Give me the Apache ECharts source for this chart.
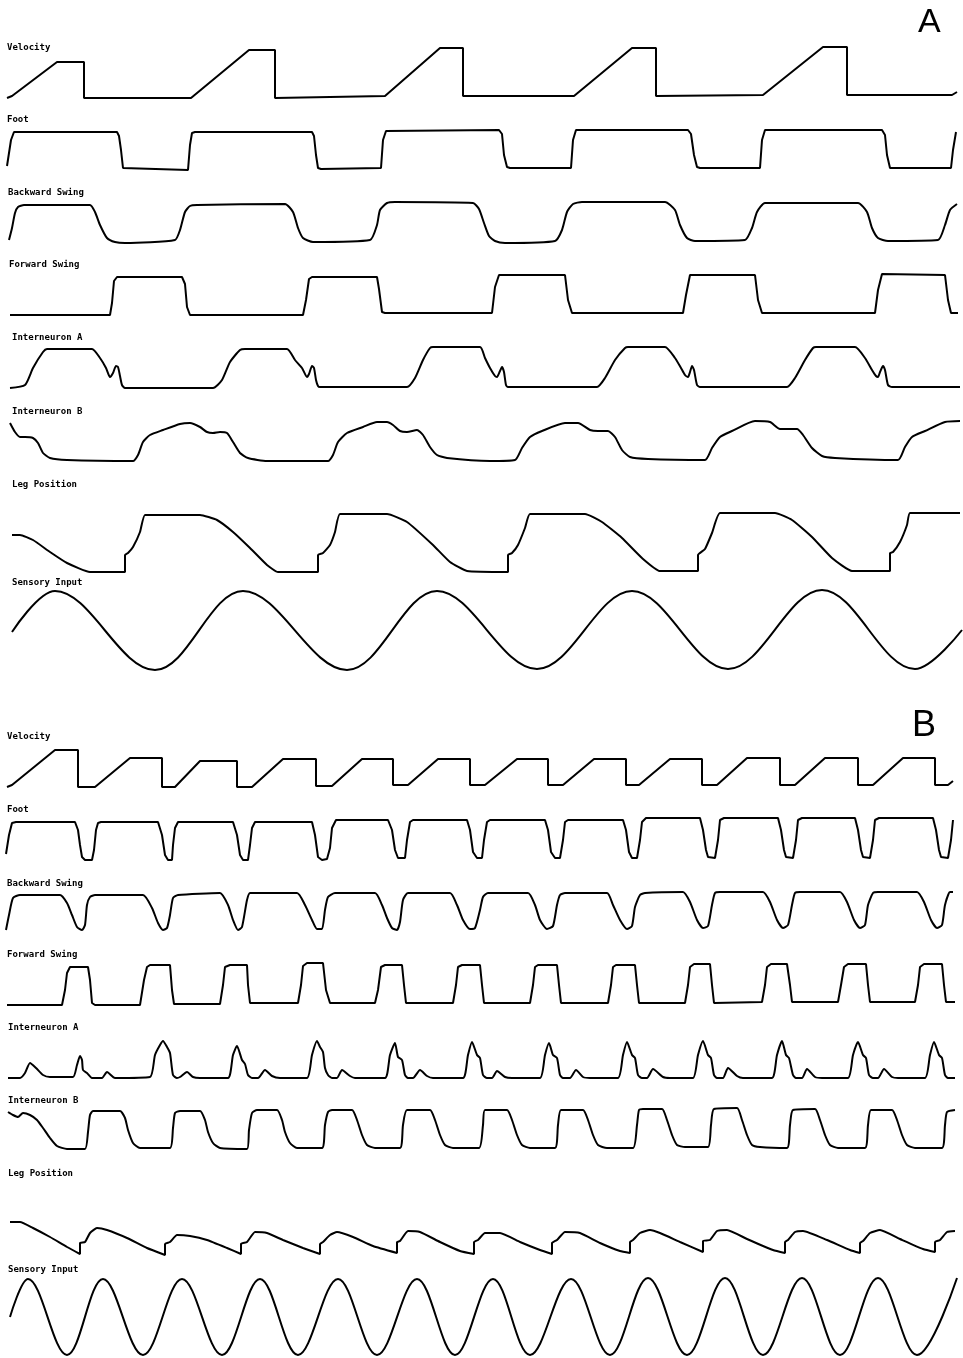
<!DOCTYPE html>
<html>
<head>
<meta charset="utf-8">
<script src="https://cdn.jsdelivr.net/npm/echarts@6/dist/echarts.min.js"></script>
<style>
  html, body { margin: 0; padding: 0; background: #fff; }
  #chart { width: 963px; height: 1358px; }
</style>
</head>
<body>
<div id="chart"></div>
<script>
// ---------- DATA (time step, activity level above the trace's baseline) ----------
const traceLabels = ['Velocity', 'Foot', 'Backward Swing', 'Forward Swing',
  'Interneuron A', 'Interneuron B', 'Leg Position', 'Sensory Input'];
const panelLetters = ['A', 'B'];

// Panel A
const velocityA = [[7,0],[12,2],[57,36],[84,36],[84,0],[191,0],[249,48],[275,48],[275,0],[385,2],[440,50],[463,50],[463,2],[574,2],[632,50],[656,50],[656,2],[763,3],[823,51],[847,51],[847,3],[952,3],[957,6]];
const footA = [[7,4],[11,30],[14,38],[18,38],[117,38],[119,34],[121,20],[123,2],[125,0],[188,0],[190,25],[192,37],[195,38],[312,38],[314,34],[316,15],[318,2],[321,1],[381,2],[383,30],[386,39],[388,39],[499,40],[502,36],[504,15],[507,3],[510,2],[571,2],[573,30],[576,40],[688,40],[691,36],[694,15],[697,3],[700,2],[760,2],[762,30],[765,40],[882,40],[885,35],[887,15],[890,2],[893,2],[951,2],[953,20],[956,38]];
const backSwingA = [[9,3],[12,15],[15,30],[18,36],[24,38],[90,38],[95,31],[100,18],[107,5],[115,1],[125,0],[175,3],[180,13],[185,31],[190,37],[197,38],[285,39],[293,31],[298,15],[303,5],[313,1],[370,3],[377,18],[380,33],[387,40],[395,41],[473,40],[479,34],[484,20],[489,7],[495,2],[505,0],[555,2],[562,13],[567,31],[573,39],[582,41],[665,41],[675,33],[680,18],[687,5],[695,2],[745,3],[752,15],[757,31],[765,40],[858,40],[867,31],[872,15],[878,5],[888,2],[938,3],[945,18],[950,33],[957,39]];
const fwdSwingA = [[10,0],[110,0],[112,12],[114,34],[117,38],[182,38],[185,31],[187,8],[190,0],[303,0],[306,15],[309,36],[312,38],[377,38],[379,26],[382,3],[385,2],[492,2],[495,28],[499,40],[565,40],[568,15],[572,2],[683,2],[686,20],[690,40],[755,40],[758,15],[762,2],[875,2],[878,25],[882,41],[945,40],[948,15],[951,2],[958,2]];
const interAA = [[10,0],[25,3],[33,20],[43,36],[47,39],[92,39],[100,30],[106,20],[110,11],[113,15],[116,22],[118,21],[120,12],[122,3],[125,0],[213,0],[222,8],[230,26],[240,38],[245,39],[287,39],[295,28],[302,20],[307,11],[309,14],[312,22],[314,20],[316,8],[318,2],[320,1],[407,1],[415,10],[423,28],[430,40],[433,41],[480,41],[485,30],[490,20],[495,12],[497,11],[500,17],[502,21],[504,16],[506,3],[508,1],[597,1],[605,10],[615,28],[625,40],[628,41],[665,41],[675,30],[681,20],[685,13],[688,11],[690,16],[692,22],[694,18],[697,3],[700,1],[787,1],[795,10],[805,28],[813,40],[816,41],[855,41],[865,30],[872,18],[876,12],[878,11],[880,16],[883,22],[885,18],[888,3],[892,1],[960,1]];
const interBA = [[10,38],[15,29],[20,24],[25,24],[33,23],[38,18],[43,8],[50,3],[67,1],[133,0],[138,6],[143,19],[150,26],[163,31],[180,37],[190,38],[200,34],[207,29],[213,28],[220,29],[227,28],[233,19],[240,8],[248,3],[267,0],[328,0],[333,6],[338,19],[347,28],[363,34],[377,39],[387,39],[393,36],[400,30],[407,29],[417,31],[423,26],[430,14],[437,6],[447,3],[490,0],[515,1],[522,13],[530,24],[542,30],[565,38],[578,38],[590,31],[598,30],[608,30],[615,24],[622,11],[630,4],[648,2],[705,1],[712,13],[720,24],[732,30],[755,40],[770,39],[780,32],[797,32],[803,26],[812,13],[822,5],[835,3],[898,1],[905,14],[912,24],[925,30],[945,39],[960,40]];
const legPosA = [[12,37],[20,37],[33,32],[50,20],[67,9],[90,0],[125,0],[125,17],[128,19],[133,25],[140,40],[145,57],[167,57],[200,57],[217,52],[233,40],[250,24],[267,7],[278,0],[318,0],[318,17],[323,19],[330,27],[335,40],[340,58],[387,58],[407,50],[433,27],[450,10],[467,1],[508,0],[508,17],[512,19],[518,27],[525,44],[530,58],[585,58],[602,50],[622,34],[642,14],[660,1],[698,1],[698,17],[705,23],[712,39],[720,59],[775,59],[792,52],[812,35],[832,14],[852,1],[890,1],[890,19],[893,20],[900,30],[907,47],[910,59],[960,59]];
const sensoryA = [[12,38],[55,79],[155,0],[243,79],[347,0],[437,79],[537,1],[632,79],[728,1],[822,80],[915,1],[962,40]];

// Panel B
const velocityB = [[7,0],[12,2],[55,37],[78,37],[78,0],[95,0],[130,29],[162,29],[162,0],[175,0],[200,26],[237,26],[237,0],[252,0],[283,28],[316,28],[316,1],[332,1],[362,28],[393,28],[393,2],[408,2],[438,28],[470,28],[470,2],[485,2],[517,28],[548,28],[548,2],[563,2],[594,28],[626,28],[626,2],[639,2],[670,28],[702,28],[702,2],[717,2],[747,29],[780,29],[780,2],[795,2],[825,29],[858,29],[858,2],[873,2],[903,29],[935,29],[935,2],[948,2],[953,6]];
const footB = [[6,6],[9,25],[12,37],[16,38],[75,38],[78,30],[80,15],[82,3],[85,0],[92,0],[94,10],[96,30],[98,37],[101,38],[158,38],[162,25],[165,5],[168,0],[172,0],[173,15],[175,32],[178,38],[233,38],[237,25],[240,5],[243,0],[248,0],[250,15],[252,32],[255,38],[312,38],[315,25],[318,3],[322,0],[327,1],[330,12],[332,32],[336,40],[388,40],[392,30],[395,10],[398,2],[405,2],[407,20],[410,38],[413,40],[467,40],[470,30],[473,8],[477,2],[482,2],[484,20],[487,38],[490,40],[545,40],[548,30],[551,8],[555,2],[560,2],[563,20],[565,38],[568,40],[623,40],[626,30],[629,8],[632,2],[637,2],[640,20],[642,38],[646,42],[700,42],[703,30],[706,10],[708,3],[715,2],[718,20],[720,40],[724,42],[778,42],[781,30],[784,10],[786,3],[793,2],[796,20],[798,40],[802,42],[855,42],[858,30],[861,10],[863,3],[870,2],[873,20],[875,40],[879,42],[933,42],[936,30],[939,10],[941,3],[948,2],[951,20],[953,40]];
const backSwingB = [[6,0],[9,15],[13,32],[20,35],[60,35],[67,27],[72,15],[77,3],[82,0],[85,5],[87,25],[90,33],[95,35],[143,35],[152,22],[158,7],[163,0],[167,2],[170,15],[173,32],[178,35],[220,37],[228,25],[233,10],[238,0],[242,3],[247,30],[250,37],[297,37],[305,25],[312,10],[317,1],[322,1],[325,20],[328,33],[335,37],[375,37],[382,25],[387,12],[392,2],[397,0],[400,8],[403,30],[408,37],[450,37],[457,25],[463,10],[470,1],[475,2],[480,20],[483,33],[488,37],[528,37],[535,25],[540,10],[547,1],[553,4],[557,25],[560,35],[565,37],[607,37],[613,25],[620,10],[627,1],[632,4],[635,23],[640,35],[645,37],[683,38],[690,28],[697,10],[703,2],[708,4],[712,25],[715,37],[720,38],[763,38],[770,28],[777,10],[783,2],[788,5],[792,25],[795,37],[800,38],[840,38],[847,28],[854,10],[860,2],[865,5],[868,25],[873,37],[878,38],[917,38],[924,28],[931,10],[937,2],[942,5],[945,25],[950,38],[953,38]];
const fwdSwingB = [[7,0],[62,0],[65,15],[67,32],[70,38],[88,38],[90,25],[92,2],[95,0],[140,0],[144,25],[147,38],[150,40],[170,40],[172,15],[174,1],[220,1],[223,20],[225,38],[230,40],[247,40],[248,20],[250,2],[298,2],[301,20],[303,39],[307,42],[323,42],[326,15],[330,2],[375,2],[378,15],[381,38],[385,40],[402,40],[404,20],[406,2],[453,2],[456,20],[458,38],[462,40],[480,40],[482,20],[484,2],[530,2],[533,20],[535,38],[538,40],[557,40],[559,20],[561,2],[608,2],[611,20],[613,38],[616,40],[635,40],[637,20],[639,2],[685,2],[688,20],[690,38],[694,41],[710,41],[712,20],[714,2],[762,3],[765,20],[767,38],[771,41],[787,41],[790,20],[792,3],[838,3],[841,20],[844,38],[848,41],[866,41],[868,20],[870,3],[915,3],[918,20],[920,38],[924,41],[942,41],[944,20],[946,3],[955,3]];
const interAB = [[8,0],[20,0],[25,5],[30,15],[36,10],[43,3],[50,1],[73,1],[77,13],[80,22],[82,18],[83,8],[87,5],[92,0],[102,0],[107,6],[115,0],[150,1],[155,23],[160,33],[163,37],[167,31],[170,25],[173,3],[177,0],[180,1],[187,6],[193,1],[200,0],[228,0],[233,23],[237,32],[242,18],[245,14],[248,3],[252,0],[258,0],[265,8],[272,2],[280,0],[307,0],[312,23],[317,37],[320,31],[323,26],[325,10],[328,3],[332,0],[337,0],[342,8],[350,2],[355,0],[385,0],[390,23],[395,35],[398,21],[402,18],[405,3],[408,0],[413,0],[420,8],[427,2],[433,0],[463,0],[468,23],[472,36],[477,23],[480,20],[483,3],[487,0],[492,0],[497,7],[505,1],[512,0],[540,0],[545,23],[549,35],[553,23],[557,20],[560,3],[563,0],[570,0],[576,8],[583,1],[590,0],[618,0],[623,23],[627,36],[632,23],[635,20],[638,3],[642,0],[647,0],[653,9],[663,1],[670,0],[693,0],[698,23],[703,37],[708,23],[711,20],[714,3],[717,0],[723,0],[728,10],[737,2],[743,0],[772,0],[777,23],[782,37],[786,23],[789,20],[793,3],[796,0],[802,0],[807,9],[815,1],[822,0],[848,0],[853,23],[858,36],[863,23],[866,20],[869,3],[873,0],[878,0],[884,9],[892,1],[898,0],[925,0],[930,23],[934,36],[939,23],[942,20],[945,3],[948,0],[955,0]];
const interBB = [[8,37],[13,34],[18,32],[23,36],[30,34],[37,29],[43,21],[50,11],[57,3],[67,0],[85,0],[88,17],[90,34],[93,38],[100,38],[120,38],[125,31],[128,19],[133,6],[140,1],[170,1],[173,21],[175,36],[180,38],[200,38],[205,29],[208,17],[213,6],[220,1],[247,0],[249,19],[252,36],[257,39],[277,39],[282,29],[285,17],[290,6],[297,1],[322,1],[325,24],[328,37],[332,39],[352,39],[357,29],[362,14],[367,4],[375,1],[400,1],[403,24],[407,39],[430,39],[435,29],[440,14],[445,4],[453,1],[479,1],[483,24],[485,39],[507,39],[512,29],[517,14],[522,4],[530,1],[555,1],[558,24],[561,39],[583,39],[588,29],[593,14],[598,4],[607,1],[633,1],[637,24],[639,39],[643,40],[662,40],[667,29],[672,14],[677,4],[685,2],[708,2],[711,24],[714,40],[737,41],[742,29],[747,14],[752,4],[760,2],[787,1],[790,24],[793,39],[815,40],[820,29],[825,14],[830,4],[838,1],[865,1],[868,24],[871,39],[892,39],[897,29],[902,14],[907,4],[915,1],[942,1],[945,24],[947,37],[955,39]];
const legPosB = [[10,33],[20,33],[33,27],[50,18],[67,8],[80,1],[80,12],[85,13],[90,22],[97,27],[107,25],[127,17],[147,7],[165,0],[165,11],[170,13],[177,20],[190,19],[207,15],[227,7],[241,1],[241,11],[247,13],[255,23],[267,22],[283,15],[303,7],[320,1],[320,11],[323,13],[330,20],[337,23],[353,18],[373,9],[397,2],[397,13],[400,14],[408,24],[420,23],[440,13],[460,4],[474,1],[474,13],[478,15],[485,22],[500,22],[520,13],[540,5],[552,1],[552,12],[557,15],[565,23],[580,22],[600,12],[620,4],[630,2],[630,13],[633,15],[640,22],[650,25],[660,22],[680,13],[703,3],[703,14],[710,15],[717,24],[727,25],[747,16],[773,5],[785,2],[785,13],[788,15],[795,23],[803,24],[827,15],[850,5],[860,2],[860,12],[863,14],[870,22],[880,25],[900,16],[923,6],[935,3],[935,13],[940,15],[947,23],[955,24]];
const sensoryB = [[10,39],[28,77],[67,1],[103,77],[143,1],[182,77],[222,1],[260,77],[298,1],[338,77],[377,1],[417,77],[455,1],[493,77],[530,1],[571,77],[610,1],[648,78],[687,1],[725,78],[763,1],[802,78],[840,1],[878,78],[917,1],[957,78]];

const seriesA = [velocityA, footA, backSwingA, fwdSwingA, interAA, interBA, legPosA, sensoryA];
const seriesB = [velocityB, footB, backSwingB, fwdSwingB, interAB, interBB, legPosB, sensoryB];

// ---------- LAYOUT / STYLE ----------
const traceTopA = [47, 130, 202, 275, 347, 421, 513, 590];
const traceHA   = [51, 40, 41, 40, 41, 40, 59, 80];
const traceTopB = [750, 818, 892, 963, 1041, 1108, 1222, 1278];
const traceHB   = [37, 42, 38, 42, 37, 41, 33, 78];
const smoothing = [0, 0, 0.2, 0, 0.2, 0.2, 0.15, 0.36];
const labelYA = [47, 119, 192, 264, 337, 411, 484, 582];
const labelXA = [7, 7, 8, 9, 12, 12, 12, 12];
const labelYB = [736, 809, 883, 954, 1027, 1100, 1173, 1269];
const labelXB = [7, 7, 7, 7, 8, 8, 8, 8];

const grids = [], xAxes = [], yAxes = [], series = [], titles = [];
function addPanel(dataList, tops, heights, labelX, labelY) {
  dataList.forEach((d, i) => {
    const idx = grids.length;
    grids.push({ left: 0, top: tops[i], width: 963, height: heights[i] });
    xAxes.push({ type: 'value', gridIndex: idx, min: 0, max: 963, show: false });
    yAxes.push({ type: 'value', gridIndex: idx, min: 0, max: heights[i], show: false });
    series.push({
      type: 'line', xAxisIndex: idx, yAxisIndex: idx, data: d,
      showSymbol: false, smooth: smoothing[i], clip: false, silent: true,
      lineStyle: { color: '#000', width: 2 }
    });
    titles.push({
      text: traceLabels[i], left: labelX[i], top: labelY[i] - 4, padding: 0,
      textStyle: { fontFamily: 'DejaVu Sans Mono', fontWeight: 'bold', fontSize: 9, color: '#000' }
    });
  });
}
addPanel(seriesA, traceTopA, traceHA, labelXA, labelYA);
addPanel(seriesB, traceTopB, traceHB, labelXB, labelYB);
titles.push({ text: panelLetters[0], left: 918, top: 6, padding: 0,
  textStyle: { fontFamily: 'Liberation Sans', fontWeight: 'normal', fontSize: 34, color: '#000' } });
titles.push({ text: panelLetters[1], left: 912, top: 708, padding: 0,
  textStyle: { fontFamily: 'Liberation Sans', fontWeight: 'normal', fontSize: 36, color: '#000' } });

const chart = echarts.init(document.getElementById('chart'), null, { renderer: 'canvas' });
chart.setOption({
  animation: false,
  backgroundColor: '#fff',
  title: titles,
  grid: grids,
  xAxis: xAxes,
  yAxis: yAxes,
  series: series
});
</script>
</body>
</html>
